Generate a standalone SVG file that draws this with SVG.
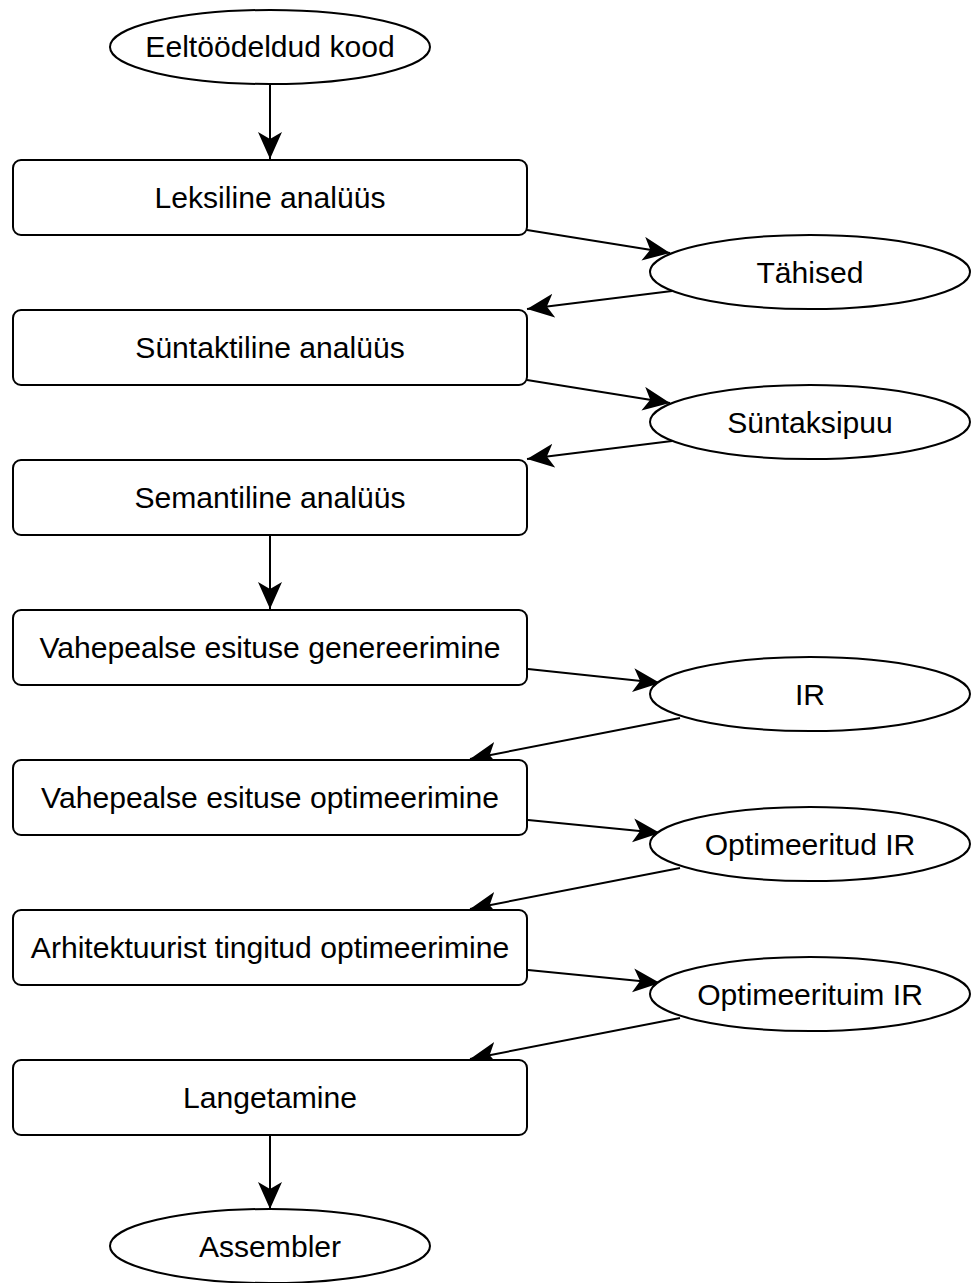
<svg xmlns="http://www.w3.org/2000/svg" width="971" height="1283" viewBox="0 0 971 1283">
<style>
.n{fill:#fff;stroke:#000;stroke-width:2}
.t{font-family:"Liberation Sans",Arial,sans-serif;font-size:30.1px;fill:#000;text-anchor:middle}
.c{fill:none;stroke:#000;stroke-width:2;marker-end:url(#ah)}
</style>
<defs>
<marker id="ah" markerUnits="userSpaceOnUse" markerWidth="30" markerHeight="26" refX="27" refY="12" orient="auto" viewBox="0 0 30 26">
<path d="M27,12 L0,0 L7,12 L0,24 Z" fill="#000"/>
</marker>
</defs>
<rect width="971" height="1283" fill="#fff"/>
<g id="connectors">
<line class="c" x1="270" y1="84" x2="270" y2="159"/>
<line class="c" x1="527" y1="230" x2="670" y2="253"/>
<line class="c" x1="672" y1="291" x2="527" y2="309"/>
<line class="c" x1="527" y1="380" x2="670" y2="403"/>
<line class="c" x1="672" y1="441" x2="527" y2="459"/>
<line class="c" x1="270" y1="535" x2="270" y2="609"/>
<line class="c" x1="528" y1="669" x2="660" y2="683"/>
<line class="c" x1="680" y1="718" x2="470" y2="759"/>
<line class="c" x1="528" y1="820" x2="660" y2="833"/>
<line class="c" x1="680" y1="868" x2="470" y2="909"/>
<line class="c" x1="528" y1="970" x2="660" y2="983"/>
<line class="c" x1="680" y1="1018" x2="470" y2="1059"/>
<line class="c" x1="270" y1="1135" x2="270" y2="1209"/>
</g>
<g id="eeltoodeldud"><ellipse class="n" cx="270" cy="47" rx="160" ry="37"/><text class="t" x="270" y="57">Eeltöödeldud kood</text></g>
<g id="leksiline"><rect class="n" x="13" y="160" width="514" height="75" rx="8"/><text class="t" x="270" y="208">Leksiline analüüs</text></g>
<g id="tahised"><ellipse class="n" cx="810" cy="272" rx="160" ry="37"/><text class="t" x="810" y="283">Tähised</text></g>
<g id="suntaktiline"><rect class="n" x="13" y="310" width="514" height="75" rx="8"/><text class="t" x="270" y="358">Süntaktiline analüüs</text></g>
<g id="suntaksipuu"><ellipse class="n" cx="810" cy="422" rx="160" ry="37"/><text class="t" x="810" y="433">Süntaksipuu</text></g>
<g id="semantiline"><rect class="n" x="13" y="460" width="514" height="75" rx="8"/><text class="t" x="270" y="508">Semantiline analüüs</text></g>
<g id="vahegen"><rect class="n" x="13" y="610" width="514" height="75" rx="8"/><text class="t" x="270" y="658">Vahepealse esituse genereerimine</text></g>
<g id="ir"><ellipse class="n" cx="810" cy="694" rx="160" ry="37"/><text class="t" x="810" y="705">IR</text></g>
<g id="vaheopt"><rect class="n" x="13" y="760" width="514" height="75" rx="8"/><text class="t" x="270" y="808">Vahepealse esituse optimeerimine</text></g>
<g id="optir"><ellipse class="n" cx="810" cy="844" rx="160" ry="37"/><text class="t" x="810" y="855">Optimeeritud IR</text></g>
<g id="arhitektuur"><rect class="n" x="13" y="910" width="514" height="75" rx="8"/><text class="t" x="270" y="958">Arhitektuurist tingitud optimeerimine</text></g>
<g id="optimeerituim"><ellipse class="n" cx="810" cy="994" rx="160" ry="37"/><text class="t" x="810" y="1005">Optimeerituim IR</text></g>
<g id="langetamine"><rect class="n" x="13" y="1060" width="514" height="75" rx="8"/><text class="t" x="270" y="1108">Langetamine</text></g>
<g id="assembler"><ellipse class="n" cx="270" cy="1246" rx="160" ry="37"/><text class="t" x="270" y="1257">Assembler</text></g>
</svg>
